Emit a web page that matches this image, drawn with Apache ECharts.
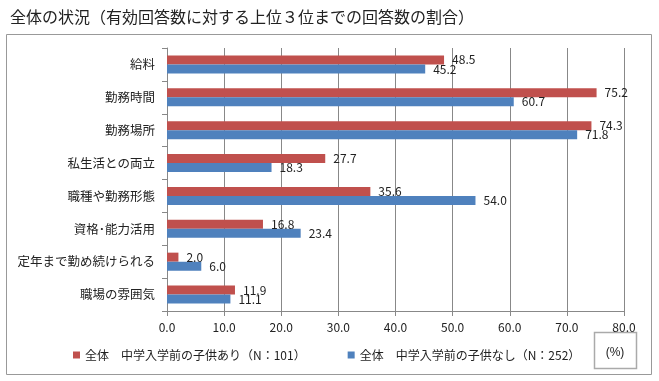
<!DOCTYPE html>
<html><head><meta charset="utf-8">
<script src="https://cdn.jsdelivr.net/npm/echarts@6/dist/echarts.min.js"></script>
<style>html,body{margin:0;padding:0;background:#fff}#c{width:659px;height:381px}</style>
</head><body><div id="c"></div>
<script>
const titleText = '全体の状況（有効回答数に対する上位３位までの回答数の割合）';
const categories = ['給料','勤務時間','勤務場所','私生活との両立','職種や勤務形態','資格･能力活用','定年まで勤め続けられる','職場の雰囲気'];
const seriesNames = ['全体　中学入学前の子供あり（N：101）','全体　中学入学前の子供なし（N：252）'];
const withKids = [48.5,75.2,74.3,27.7,35.6,16.8,2.0,11.9];
const withoutKids = [45.2,60.7,71.8,18.3,54.0,23.4,6.0,11.1];
const unitText = '(%)';

const FONT = '"Noto Sans CJK JP", "Noto Sans", sans-serif';
const chart = echarts.init(document.getElementById('c'), null, {renderer:'canvas'});
const lbl = {show:true, position:'right', distance:8, fontSize:12, color:'#222', fontFamily:FONT,
  formatter: p => p.value.toFixed(1)};
chart.setOption({
  animation:false,
  textStyle:{fontFamily:FONT},
  title:{text:titleText, left:5, top:4, textStyle:{fontSize:16, fontWeight:'normal', color:'#222', fontFamily:FONT}},
  grid:{left:167, right:35, top:48, bottom:70, containLabel:false},
  legend:{left:68, top:344, itemWidth:7, itemHeight:7, itemGap:42, icon:'rect',
    textStyle:{fontSize:12, color:'#222', fontFamily:FONT}, data:seriesNames},
  xAxis:{type:'value', min:0, max:80, interval:10,
    axisLine:{show:true, lineStyle:{color:'#888'}},
    axisTick:{show:true, length:5, lineStyle:{color:'#888'}},
    splitLine:{show:true, lineStyle:{color:'#888', width:1}},
    axisLabel:{fontSize:12, color:'#222', margin:10, formatter: v => v.toFixed(1)}},
  yAxis:{type:'category', data:categories, inverse:true,
    axisLine:{show:true, lineStyle:{color:'#888'}},
    axisTick:{show:true, length:5, lineStyle:{color:'#888'}},
    axisLabel:{fontSize:12.5, color:'#222', margin:12}},
  series:[
    {name:seriesNames[0], type:'bar', data:withKids, itemStyle:{color:'#C0504D'}, barGap:'0%', barCategoryGap:'45%', label:lbl},
    {name:seriesNames[1], type:'bar', data:withoutKids, itemStyle:{color:'#4F81BD'}, barGap:'0%', barCategoryGap:'45%', label:lbl}
  ],
  graphic:[
    {type:'rect', shape:{x:6.5, y:34.5, width:645, height:340}, style:{fill:null, stroke:'#999', lineWidth:1}, silent:true},
    {type:'rect', shape:{x:594.5, y:332.5, width:42, height:36}, style:{fill:null, stroke:'#aaa', lineWidth:1.5}, silent:true},
    {type:'text', x:615, y:353, style:{text:unitText, fontSize:12, fill:'#222', font:'12px '+FONT, align:'center', verticalAlign:'middle'}}
  ]
});
</script></body></html>
